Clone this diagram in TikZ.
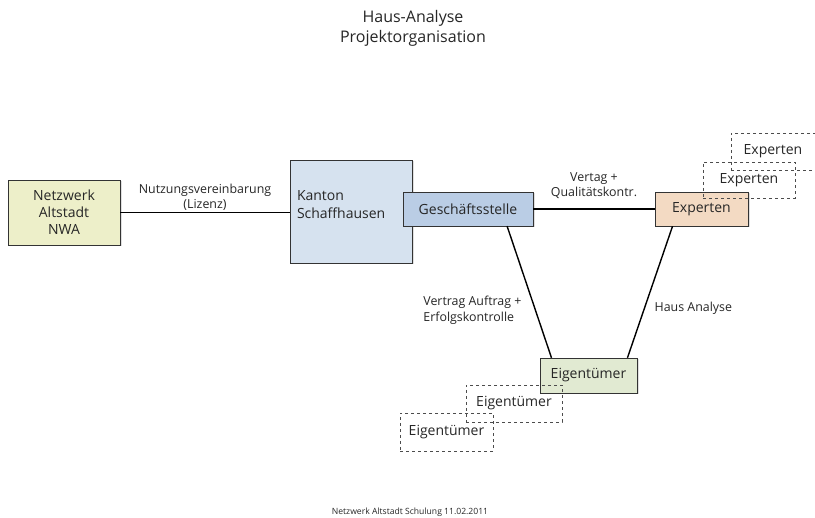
\documentclass[tikz,border=0pt]{standalone}
\usepackage{fontspec}
\setmainfont{Open Sans}
\usepackage{tikz}
\usetikzlibrary{calc, shadows}
\usepackage{xcolor}

\definecolor{nwafill}{HTML}{EDEFC9}
\definecolor{ktfill}{HTML}{D6E2EF}
\definecolor{gsfill}{HTML}{BACDE5}
\definecolor{expfill}{HTML}{F3DAC3}
\definecolor{eigfill}{HTML}{E1EAD2}

\begin{document}
\begin{tikzpicture}[x=1pt, y=-1pt,
  box/.style={draw=black!80, font=\fontsize{14}{17}\selectfont, text=black!85,
              align=center, inner sep=3pt,
              drop shadow={shadow xshift=1.5pt, shadow yshift=-1.5pt, opacity=0.25}},
  ghost/.style={draw=black!70, dashed, font=\fontsize{14}{17}\selectfont,
                text=black!85, align=center},
  lbl/.style={font=\fontsize{12.4}{15.5}\selectfont, text=black!85, align=center},
  link/.style={line width=1.4pt},
]
  \useasboundingbox (0,0) rectangle (815,518);

  % Title and footer
  \node[font=\fontsize{16}{20}\selectfont, align=center, text=black!85] (title) at (413,28)
    {Haus-Analyse\\Projektorganisation};
  \node[font=\fontsize{8.6}{10}\selectfont, text=black!85] (footer) at (410,512)
    {Netzwerk Altstadt Schulung 11.02.2011};

  % Partners
  \node[box, fill=nwafill, minimum width=112, minimum height=65] (nwa) at (64,212.5)
    {Netzwerk\\Altstadt\\NWA};
  \node[box, fill=ktfill, minimum width=122, minimum height=103, text width=108,
        align=left, font=\fontsize{14}{18}\selectfont] (kanton) at (351,211.5)
    {Kanton\\Schaffhausen\\[-4pt]\mbox{}};
  \node[box, fill=gsfill, minimum width=130, minimum height=34] (gs) at (468,209)
    {Geschäftsstelle};
  \node[box, fill=expfill, minimum width=93, minimum height=34] (exp) at (701.5,209)
    {Experten};
  \node[box, fill=eigfill, minimum width=97, minimum height=35] (eig) at (588.5,375.5)
    {Eigentümer};

  % Further experts and owners
  \node[ghost, minimum width=92, minimum height=36] (exp2) at (749,180) {Experten};
  \node[ghost, minimum width=84, minimum height=37] (exp3) at (773,151.5) {Experten};
  \node[ghost, minimum width=96, minimum height=37] (eig2) at (514,403.5) {Eigentümer};
  \node[ghost, minimum width=93, minimum height=38] (eig3) at (446.5,432) {Eigentümer};

  % Connections
  \draw[link] (nwa.east) -- node[lbl, above=-2pt] {Nutzungsvereinbarung\\(Lizenz)}
    (nwa.east -| kanton.west);
  \draw[link] (gs) -- node[lbl, above=6pt] {Vertag +\\Qualitätskontr.} (exp);
  \draw[link] ($(gs.south west)!0.8!(gs.south east)$) --
    node[lbl, align=left, pos=0.64, anchor=east, xshift=-10pt] {Vertrag Auftrag +\\Erfolgskontrolle}
    ($(eig.north west)!0.12!(eig.north east)$);
  \draw[link] ($(exp.south west)!0.19!(exp.south east)$) --
    node[lbl, pos=0.62, anchor=west, xshift=6pt] {Haus Analyse}
    ($(eig.north west)!0.9!(eig.north east)$);
\end{tikzpicture}
\end{document}
